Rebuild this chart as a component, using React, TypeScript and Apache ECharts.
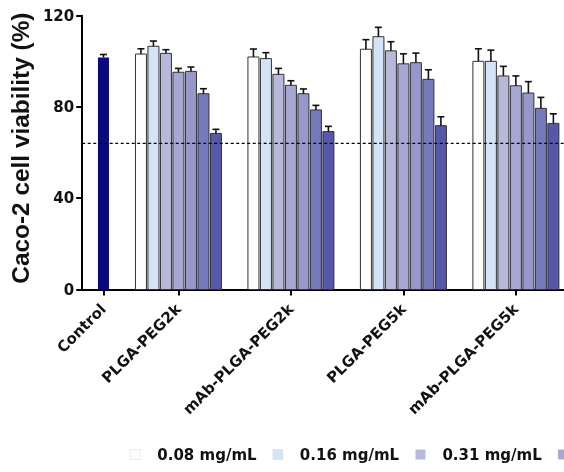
import React, { useEffect, useRef } from "react";
import * as echarts from "echarts";

// ---- data ----
const groups = ["PLGA-PEG2k", "mAb-PLGA-PEG2k", "PLGA-PEG5k", "mAb-PLGA-PEG5k"];
const concentrations = ["0.08 mg/mL", "0.16 mg/mL", "0.31 mg/mL", "0.63 mg/mL", "1.25 mg/mL", "2.5 mg/mL", "5 mg/mL"];
const controlLabel = "Control";
const controlMean = 101.7;
const controlSd = 1.3;
// mean viability (%) and SD per group, one value per concentration
const plgaPeg2kMean = [103.2, 106.6, 103.5, 95.2, 95.6, 85.8, 68.4];
const plgaPeg2kSd = [2.3, 2.3, 1.6, 1.7, 1.9, 2.2, 1.8];
const mAbPlgaPeg2kMean = [101.9, 101.2, 94.3, 89.5, 85.8, 78.7, 69.2];
const mAbPlgaPeg2kSd = [3.5, 2.6, 2.6, 2.0, 2.1, 2.0, 2.3];
const plgaPeg5kMean = [105.3, 110.8, 104.6, 98.9, 99.4, 92.1, 71.8];
const plgaPeg5kSd = [4.2, 4.1, 4.0, 4.4, 4.2, 4.2, 3.9];
const mAbPlgaPeg5kMean = [100.0, 100.0, 93.6, 89.3, 86.1, 79.4, 72.8];
const mAbPlgaPeg5kSd = [5.5, 4.9, 4.2, 4.3, 5.0, 4.8, 4.2];
const threshold = 64;
const yTicks = [0, 40, 80, 120];

// ---- layout (slot units on the x value axis) ----
const CONTROL_POS = 0;
const FIRST_GROUP_POS = 6;
const GROUP_STEP = 9;
const X_MIN = -1.7;
const X_MAX = 36.85;

const means = [plgaPeg2kMean, mAbPlgaPeg2kMean, plgaPeg5kMean, mAbPlgaPeg5kMean];
const sds = [plgaPeg2kSd, mAbPlgaPeg2kSd, plgaPeg5kSd, mAbPlgaPeg5kSd];
const colors = ["#fdfdfd", "#d5e3f6", "#b8b9da", "#a6a7d3", "#9697cb", "#7779bd", "#5758aa"];
const CONTROL_COLOR = "#0a0a80";
const groupPos = groups.map((_, g) => FIRST_GROUP_POS + g * GROUP_STEP);
const tickPositions = [CONTROL_POS, ...groupPos];
const tickNames = [controlLabel, ...groups];

const FONT = "DejaVu Sans";

function barRenderer(width: number, fill: string, stroke: string | null) {
  return (params: any, api: any) => {
    const x = api.value(0);
    const base = api.coord([x, 0]);
    const top = api.coord([x, api.value(1)]);
    return {
      type: "rect",
      shape: { x: base[0] - width / 2, y: top[1], width, height: base[1] - top[1] },
      style: stroke ? { fill, stroke, lineWidth: 1 } : { fill },
    };
  };
}

export default function App() {
  const ref = useRef<HTMLDivElement>(null);
  useEffect(() => {
    const chart = echarts.init(ref.current!, null, { renderer: "svg" });

    const barSeries = concentrations.map((name, i) => ({
      name,
      type: "custom",
      z: 2,
      itemStyle: { color: colors[i] },
      renderItem: barRenderer(11, colors[i], "#333"),
      data: groups.map((_, g) => [groupPos[g] + i - 3, means[g][i]]),
    }));

    const errData: number[][] = [[CONTROL_POS, controlMean, controlMean + controlSd]];
    groups.forEach((_, g) => {
      concentrations.forEach((_, i) => {
        errData.push([groupPos[g] + i - 3, means[g][i], means[g][i] + sds[g][i]]);
      });
    });

    chart.setOption({
      animation: false,
      grid: { left: 78, right: 0, top: 15.7, bottom: 182.5, containLabel: false },
      legend: {
        data: concentrations,
        icon: "rect",
        left: 130,
        top: 447,
        width: 1200,
        padding: 0,
        orient: "horizontal",
        itemWidth: 10,
        itemHeight: 10,
        itemGap: 16,
        itemStyle: { borderColor: "#ddd", borderWidth: 0.6 },
        textStyle: { fontFamily: FONT, fontWeight: "bold", fontSize: 15, color: "#111", padding: [0, 0, 0, 12] },
      },
      xAxis: {
        type: "value",
        min: X_MIN,
        max: X_MAX,
        splitLine: { show: false },
        axisLine: { show: true, onZero: false, lineStyle: { color: "#000", width: 2 } },
        axisTick: { show: true, length: 6, lineStyle: { color: "#000", width: 2 }, customValues: tickPositions },
        axisLabel: {
          customValues: tickPositions,
          rotate: 45,
          margin: 17,
          fontFamily: FONT,
          fontWeight: "bold",
          fontSize: 15,
          color: "#111",
          formatter: (v: number) => {
            const idx = tickPositions.indexOf(Math.round(v));
            return idx >= 0 ? tickNames[idx] : "";
          },
        },
      },
      yAxis: {
        type: "value",
        min: 0,
        max: 120,
        interval: 40,
        name: "Caco-2 cell viability (%)",
        nameLocation: "middle",
        nameGap: 43,
        nameTextStyle: {
          fontFamily: "Liberation Sans", fontWeight: "bold", fontSize: 24.4, color: "#111",
          padding: [0, 0, 0, 9],
        },
        splitLine: { show: false },
        axisLine: { show: true, onZero: false, lineStyle: { color: "#000", width: 2 } },
        axisTick: { show: true, length: 6, lineStyle: { color: "#000", width: 2 } },
        axisLabel: {
          margin: 8, fontFamily: FONT, fontWeight: "bold", fontSize: 15, color: "#111",
          formatter: (v: number) => (yTicks.includes(v) ? String(v) : ""),
        },
      },
      series: [
        {
          name: controlLabel,
          type: "custom",
          z: 2,
          itemStyle: { color: CONTROL_COLOR },
          renderItem: barRenderer(11, CONTROL_COLOR, null),
          data: [[CONTROL_POS, controlMean]],
        },
        ...barSeries,
        {
          name: "threshold",
          type: "custom",
          z: 10,
          silent: true,
          clip: false,
          data: [[X_MIN, threshold, X_MAX]],
          renderItem: (params: any, api: any) => {
            const a = api.coord([api.value(0), api.value(1)]);
            const b = api.coord([api.value(2), api.value(1)]);
            return {
              type: "line",
              shape: { x1: a[0], y1: a[1], x2: b[0], y2: b[1] },
              style: { stroke: "#000", lineWidth: 1.3, lineDash: [3, 2.5] },
            };
          },
        },
        {
          name: "error",
          type: "custom",
          z: 5,
          data: errData,
          renderItem: (params: any, api: any) => {
            const x = api.value(0);
            const p0 = api.coord([x, api.value(1)]);
            const p1 = api.coord([x, api.value(2)]);
            const st = { stroke: "#111", lineWidth: 1.6 };
            return {
              type: "group",
              children: [
                { type: "line", shape: { x1: p0[0], y1: p0[1], x2: p1[0], y2: p1[1] }, style: st },
                { type: "line", shape: { x1: p1[0] - 3.5, y1: p1[1], x2: p1[0] + 3.5, y2: p1[1] }, style: st },
              ],
            };
          },
        },
      ],
    });
    return () => chart.dispose();
  }, []);
  return <div ref={ref} style={{ position: "fixed", left: 0, top: 0, width: 564, height: 472 }} />;
}
